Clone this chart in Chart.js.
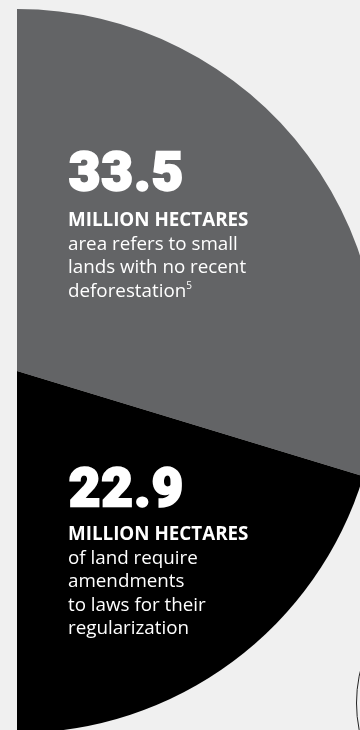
<!DOCTYPE html>
<html>
<head>
<meta charset="utf-8">
<script src="https://cdn.jsdelivr.net/npm/chart.js@4.4.1/dist/chart.umd.min.js"></script>
<style>
  html, body { margin: 0; padding: 0; }
  body { width: 360px; height: 730px; overflow: hidden; background: #f0f0f0; position: relative; }
  #wrap { position: absolute; left: 0; top: 0; width: 400px; height: 740px; }
  .num { position: absolute; left: 69px; color: #fff; font-family: Roboto, sans-serif; font-weight: 900;
         font-size: 54px; line-height: 55px; white-space: nowrap; letter-spacing: 1.3px;
         -webkit-text-stroke: 2.4px #fff; }
  .txt { position: absolute; left: 68px; color: #fff; font-family: "Open Sans", sans-serif; font-size: 18.8px;
         line-height: 23.5px; white-space: nowrap; }
  .txt b { font-weight: 700; }
  .txt sup { font-size: 10px; line-height: 0; vertical-align: 8px; }
  #ring { position: absolute; left: 356px; top: 565px; width: 276px; height: 276px; border: 1.3px solid #222;
          border-radius: 50%; box-sizing: border-box; }
</style>
</head>
<body>
<div id="wrap"><canvas id="pie" width="400" height="740"></canvas></div>
<div id="ring"></div>
<div id="labels"></div>
<script>
// Chart data
const categories = ['Small lands, no recent deforestation', 'Lands requiring law amendments'];
const values = [33.5, 22.9];
const units = ['MILLION HECTARES', 'MILLION HECTARES'];
const notes = [
    ['area refers to small', 'lands with no recent', 'deforestation'],
    ['of land require', 'amendments', 'to laws for their', 'regularization']
];
const footnotes = ['5', ''];
const sliceColors = ['#636466', '#000000'];

// label placement (top of number block, top of text block)
const labelTops = [[144, 208], [460, 522]];

const ctx = document.getElementById('pie').getContext('2d');
new Chart(ctx, {
    type: 'pie',
    data: {
        labels: categories,
        datasets: [{
            data: values,
            backgroundColor: sliceColors,
            borderWidth: 0
        }]
    },
    options: {
        responsive: false,
        animation: false,
        devicePixelRatio: 1,
        rotation: 0,
        circumference: 180,
        layout: { padding: { left: 17, top: 9, right: 21, bottom: 7 } },
        plugins: {
            legend: { display: false },
            tooltip: { enabled: false }
        }
    }
});

// text blocks
const holder = document.getElementById('labels');
values.forEach((v, i) => {
    const num = document.createElement('div');
    num.className = 'num';
    num.style.top = labelTops[i][0] + 'px';
    num.textContent = v.toFixed(1);
    holder.appendChild(num);

    const txt = document.createElement('div');
    txt.className = 'txt';
    txt.style.top = labelTops[i][1] + 'px';
    let html = `<b>${units[i]}</b>`;
    notes[i].forEach((line, j) => {
        html += '<br>' + line;
        if (j === notes[i].length - 1 && footnotes[i]) html += `<sup>${footnotes[i]}</sup>`;
    });
    txt.innerHTML = html;
    holder.appendChild(txt);
});
</script>
</body>
</html>
